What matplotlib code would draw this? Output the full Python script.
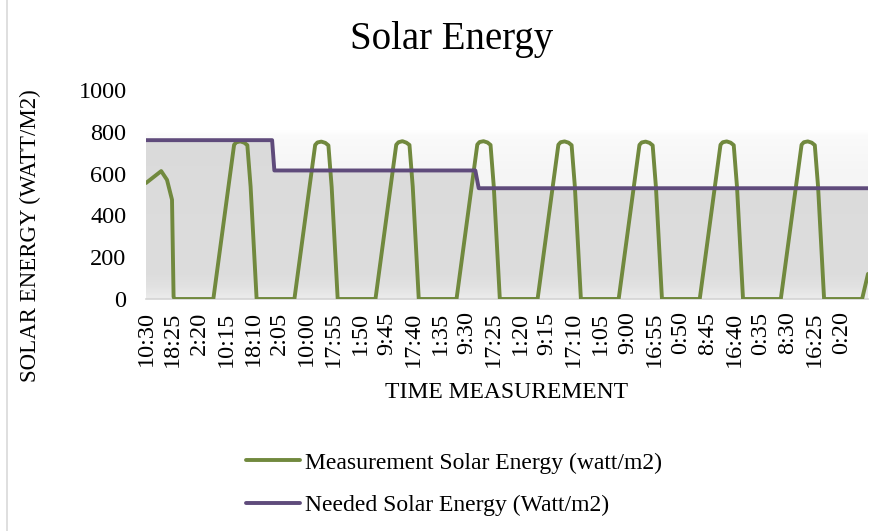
import numpy as np
import matplotlib
matplotlib.use("Agg")
import matplotlib.pyplot as plt
from matplotlib.lines import Line2D

# ---------------- data ----------------
tick_labels = ["10:30", "18:25", "2:20", "10:15", "18:10", "2:05", "10:00", "17:55",
               "1:50", "9:45", "17:40", "1:35", "9:30", "17:25", "1:20", "9:15",
               "17:10", "1:05", "9:00", "16:55", "0:50", "8:45", "16:40", "0:35",
               "8:30", "16:25", "0:20"]
tick_step_min = 475          # 7h55 between labelled categories
start_clock = "10:30"

# "day HH:MM" stamps and readings (watt/m2)
meas_stamp = [
    "0 10:30", "0 15:00", "0 16:43", "0 18:12", "0 18:40", "0 19:00",
    "1 06:26", "1 12:35", "1 13:15", "1 14:25", "1 15:35", "1 16:30", "1 17:28", "1 19:15",
    "2 06:26", "2 12:35", "2 13:15", "2 14:25", "2 15:35", "2 16:30", "2 17:28", "2 19:15",
    "3 06:26", "3 12:35", "3 13:15", "3 14:25", "3 15:35", "3 16:30", "3 17:28", "3 19:15",
    "4 06:26", "4 12:35", "4 13:15", "4 14:25", "4 15:35", "4 16:30", "4 17:28", "4 19:15",
    "5 06:26", "5 12:35", "5 13:15", "5 14:25", "5 15:35", "5 16:30", "5 17:28", "5 19:15",
    "6 06:26", "6 12:35", "6 13:15", "6 14:25", "6 15:35", "6 16:30", "6 17:28", "6 19:15",
    "7 06:26", "7 12:35", "7 13:15", "7 14:25", "7 15:35", "7 16:30", "7 17:28", "7 19:15",
    "8 06:26", "8 12:35", "8 13:15", "8 14:25", "8 15:35", "8 16:30", "8 17:28", "8 19:15",
    "9 06:30", "9 08:15",
]
meas_value = [
    555, 612, 570, 475, 10, 0,
    0, 738, 750, 754, 748, 736, 538, 0,
    0, 737, 749, 753, 747, 735, 536, 0,
    0, 738, 750, 755, 748, 737, 538, 0,
    0, 739, 751, 755, 749, 737, 537, 0,
    0, 738, 750, 754, 748, 736, 538, 0,
    0, 737, 749, 753, 747, 735, 536, 0,
    0, 738, 750, 754, 748, 736, 537, 0,
    0, 738, 750, 754, 748, 736, 538, 0,
    0, 120,
]

need_stamp = ["0 10:30", "1 23:50", "2 00:30", "4 12:00", "4 13:00", "9 08:15"]
need_value = [760, 760, 615, 615, 530, 530]

series_names = ["Measurement Solar Energy (watt/m2)", "Needed Solar Energy (Watt/m2)"]


def hours_since_start(stamp):
    d, hm = stamp.split()
    h, m = hm.split(":")
    sh, sm = start_clock.split(":")
    return int(d) * 24 + int(h) + int(m) / 60 - (int(sh) + int(sm) / 60)


t_meas = np.array([hours_since_start(s) for s in meas_stamp])
t_need = np.array([hours_since_start(s) for s in need_stamp])
tick_pos = np.arange(len(tick_labels)) * tick_step_min / 60
t_end = t_meas[-1]

# ---------------- style ----------------
plt.rcParams['font.family'] = ['Liberation Serif', 'DejaVu Serif']
GREEN = '#71893E'
PURPLE = '#5F4B7B'
W, H = 885, 531

fig = plt.figure(figsize=(W / 100, H / 100), dpi=100)
ax = fig.add_axes([146 / W, 1 - 299 / H, 722 / W, 209 / H])


def grey_gradient(levels_val, levels_grey, n=400):
    v = np.linspace(0, 1000, n)
    g = np.interp(v, levels_val, levels_grey)
    return np.repeat(g[:, None, None], 3, axis=2) * np.ones((n, 2, 3))


# plot-area background gradient
bg = grey_gradient([0, 600, 780, 805, 1000], [0.955, 0.962, 0.982, 1.0, 1.0])
ax.imshow(bg, extent=[0, t_end, 0, 1000], origin='lower', aspect='auto', zorder=0,
          interpolation='bilinear')

# grey area under the needed line
fill = ax.fill_between(t_need, 0, need_value, color='none', lw=0, zorder=1)
fg = grey_gradient([0, 15, 60, 120, 500, 800], [0.925, 0.915, 0.885, 0.865, 0.862, 0.855])
im = ax.imshow(fg, extent=[0, t_end, 0, 1000], origin='lower', aspect='auto', zorder=1,
               interpolation='bilinear')
im.set_clip_path(fill.get_paths()[0], transform=ax.transData)

l1, = ax.plot(t_meas, meas_value, color=GREEN, lw=2.8, solid_joinstyle='round',
              solid_capstyle='round', zorder=3, label=series_names[0])
l2, = ax.plot(t_need, need_value, color=PURPLE, lw=2.8, solid_joinstyle='round',
              solid_capstyle='round', zorder=4, label=series_names[1])

ax.set_xlim(0, t_end)
ax.set_ylim(0, 1000)
ax.set_yticks(range(0, 1001, 200))
ax.set_xticks(tick_pos)
ax.set_xticklabels(tick_labels, rotation=90)
ax.tick_params(axis='y', length=0, pad=14, labelsize=17.5)
ax.tick_params(axis='x', length=0, pad=9, labelsize=17.5)
for s in ['top', 'right', 'left']:
    ax.spines[s].set_visible(False)
ax.spines['bottom'].set_color('#d4d4d4')
ax.spines['bottom'].set_linewidth(1.2)
ax.spines['bottom'].set_zorder(2)

# texts
fig.text(452 / W, 1 - 39 / H, "Solar Energy", fontsize=28, ha='center', va='center')
fig.text(507 / W, 1 - 393 / H, "TIME MEASUREMENT", fontsize=17, ha='center', va='center')
fig.text(30 / W, 1 - 236 / H, "SOLAR ENERGY (WATT/M2)", fontsize=16.5, rotation=90,
         ha='center', va='center')

fig.legend(handles=[l1, l2], labels=series_names, loc='upper left',
           bbox_to_anchor=(246 / W, 1 - 452 / H), frameon=False, fontsize=17,
           handlelength=2.3, handletextpad=0.2, labelspacing=0.9,
           borderpad=0, borderaxespad=0)

# chart border (left edge visible)
fig.add_artist(Line2D([6.5 / W, 6.5 / W], [0, 1], transform=fig.transFigure,
                      color='#d9d9d9', lw=1.2))

fig.savefig('out.png', dpi=100)
